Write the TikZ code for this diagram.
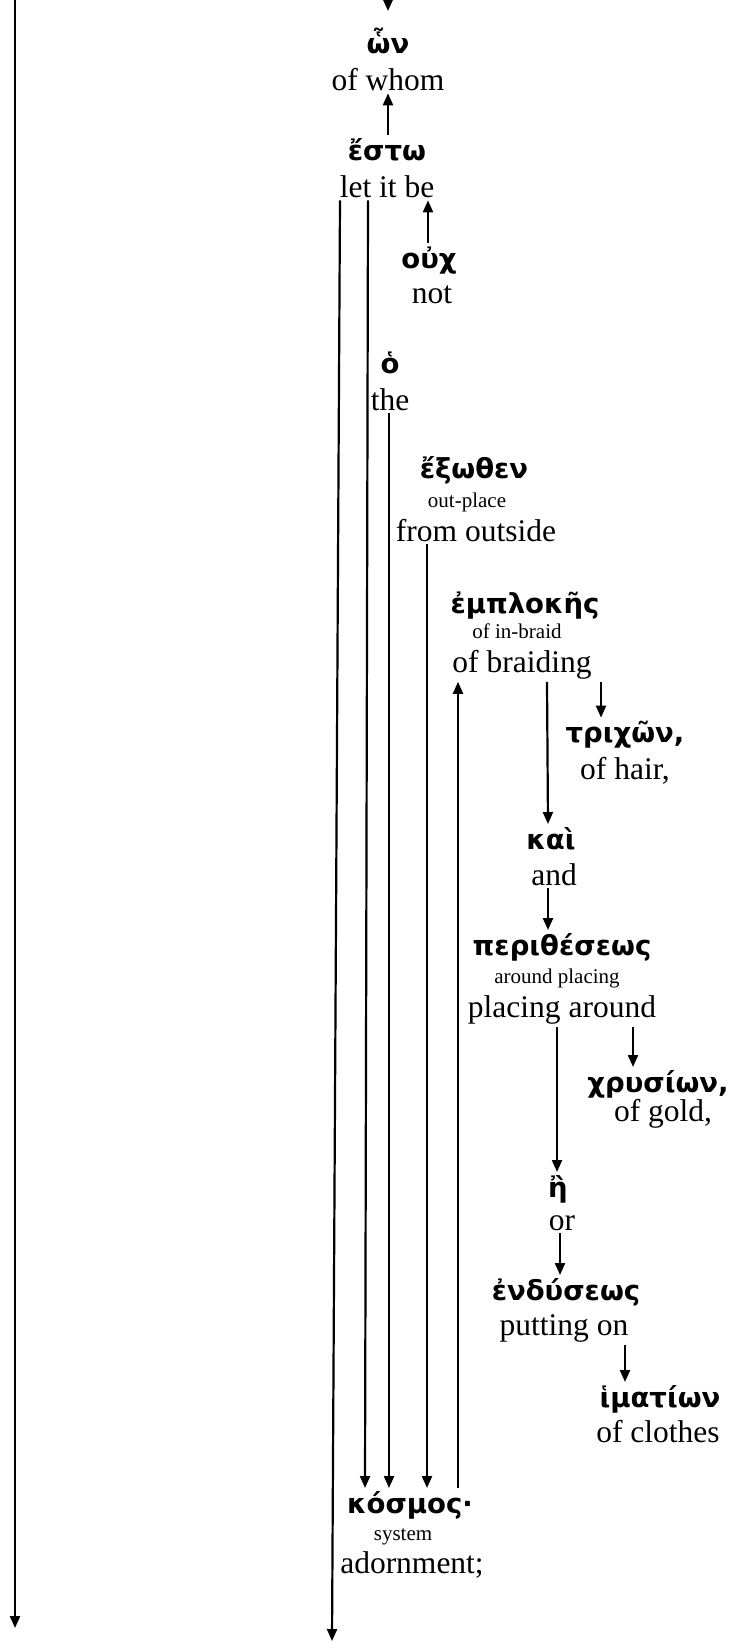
\documentclass[tikz,border=0pt]{standalone}
\usepackage{fontspec}
\setmainfont{Liberation Serif}
\newfontfamily\grk{DejaVu Sans}
\usetikzlibrary{arrows.meta}
\begin{document}
\begin{tikzpicture}[x=1pt,y=-1pt,
  every node/.style={inner sep=0pt,outer sep=3pt,anchor=base},
  gk/.style={font=\grk\bfseries\fontsize{27.5}{30}\selectfont},
  en/.style={font=\fontsize{31.5}{34}\selectfont},
  sm/.style={font=\fontsize{21}{23}\selectfont},
  conn/.style={line width=2.2pt},
  arr/.style={conn,-{Triangle[length=12pt,width=10pt]}}]
\useasboundingbox[fill=white] (0,0) rectangle (734,1642);
% nodes
\node[gk] (g1) at (388,53) {ὧν};
\node[en] (e1) at (388,90) {of whom};
\node[gk] (g2) at (387,160) {ἔστω};
\node[en] (e2) at (387,197) {let it be};
\node[gk] (g3) at (429,268) {οὐχ};
\node[en] (e3) at (432,303) {not};
\node[gk] (g4) at (390,373) {ὁ};
\node[en] (e4) at (390,410) {the};
\node[gk] (g5) at (474,478) {ἔξωθεν};
\node[sm] (s5) at (467,507) {out-place};
\node[en] (e5) at (476,541) {from outside};
\node[gk] (g6) at (525,613) {ἐμπλοκῆς};
\node[sm] (s6) at (517,638) {of in-braid};
\node[en] (e6) at (522,672) {of braiding};
\node[gk] (g7) at (625,742) {τριχῶν,};
\node[en] (e7) at (625,779) {of hair,};
\node[gk] (g8) at (551,849) {καὶ};
\node[en] (e8) at (554,885) {and};
\node[gk] (g9) at (562,955) {περιθέσεως};
\node[sm] (s9) at (557,983) {around placing};
\node[en] (e9) at (562,1017) {placing around};
\node[gk] (g10) at (658,1092) {χρυσίων,};
\node[en] (e10) at (663,1121) {of gold,};
\node[gk] (g11) at (558,1197) {ἢ};
\node[en] (e11) at (562,1230) {or};
\node[gk] (g12) at (566,1300) {ἐνδύσεως};
\node[en] (e12) at (564,1335) {putting on};
\node[gk] (g13) at (660,1407) {ἱματίων};
\node[en] (e13) at (658,1442) {of clothes};
\node[gk] (g14) at (410,1513) {κόσμος·};
\node[sm] (s14) at (403,1540) {system};
\node[en] (e14) at (412,1573) {adornment;};
% free ends
\coordinate (ltop) at (15,-5);
\coordinate (lbot) at (15,1628);
\coordinate (ttop) at (388,-20);
\coordinate (tend) at (388,11);
\coordinate (bot2) at (332,1641);
% connectors
\draw[arr] (ltop) -- (lbot);
\draw[arr] (ttop) -- (tend);
\draw[arr] (g2.north -| 388,0) -- (e1.south -| 388,0);
\draw[arr] (g3.north -| 428,0) -- (e2.south -| 428,0);
\draw[arr] (e2.south -| 340,0) -- (bot2);
\draw[arr] (e2.south -| 368,0) -- (g14.north -| 365,0);
\draw[arr] (e4.south -| 389,0) -- (g14.north -| 389,0);
\draw[arr] (e5.south -| 427,0) -- (g14.north -| 427,0);
\draw[arr] (g14.north -| 458,0) -- (e6.south -| 458,0);
\draw[arr] (e6.south -| 547,0) -- (g8.north -| 548,0);
\draw[arr] (e6.south -| 601,0) -- (g7.north -| 601,0);
\draw[arr] (e8.south -| 548,0) -- (g9.north -| 548,0);
\draw[arr] (e9.south -| 557,0) -- (g11.north -| 557,0);
\draw[arr] (e9.south -| 633,0) -- (g10.north -| 633,0);
\draw[arr] (e11.south -| 560,0) -- (g12.north -| 560,0);
\draw[arr] (e12.south -| 625,0) -- (g13.north -| 625,0);
\end{tikzpicture}
\end{document}
